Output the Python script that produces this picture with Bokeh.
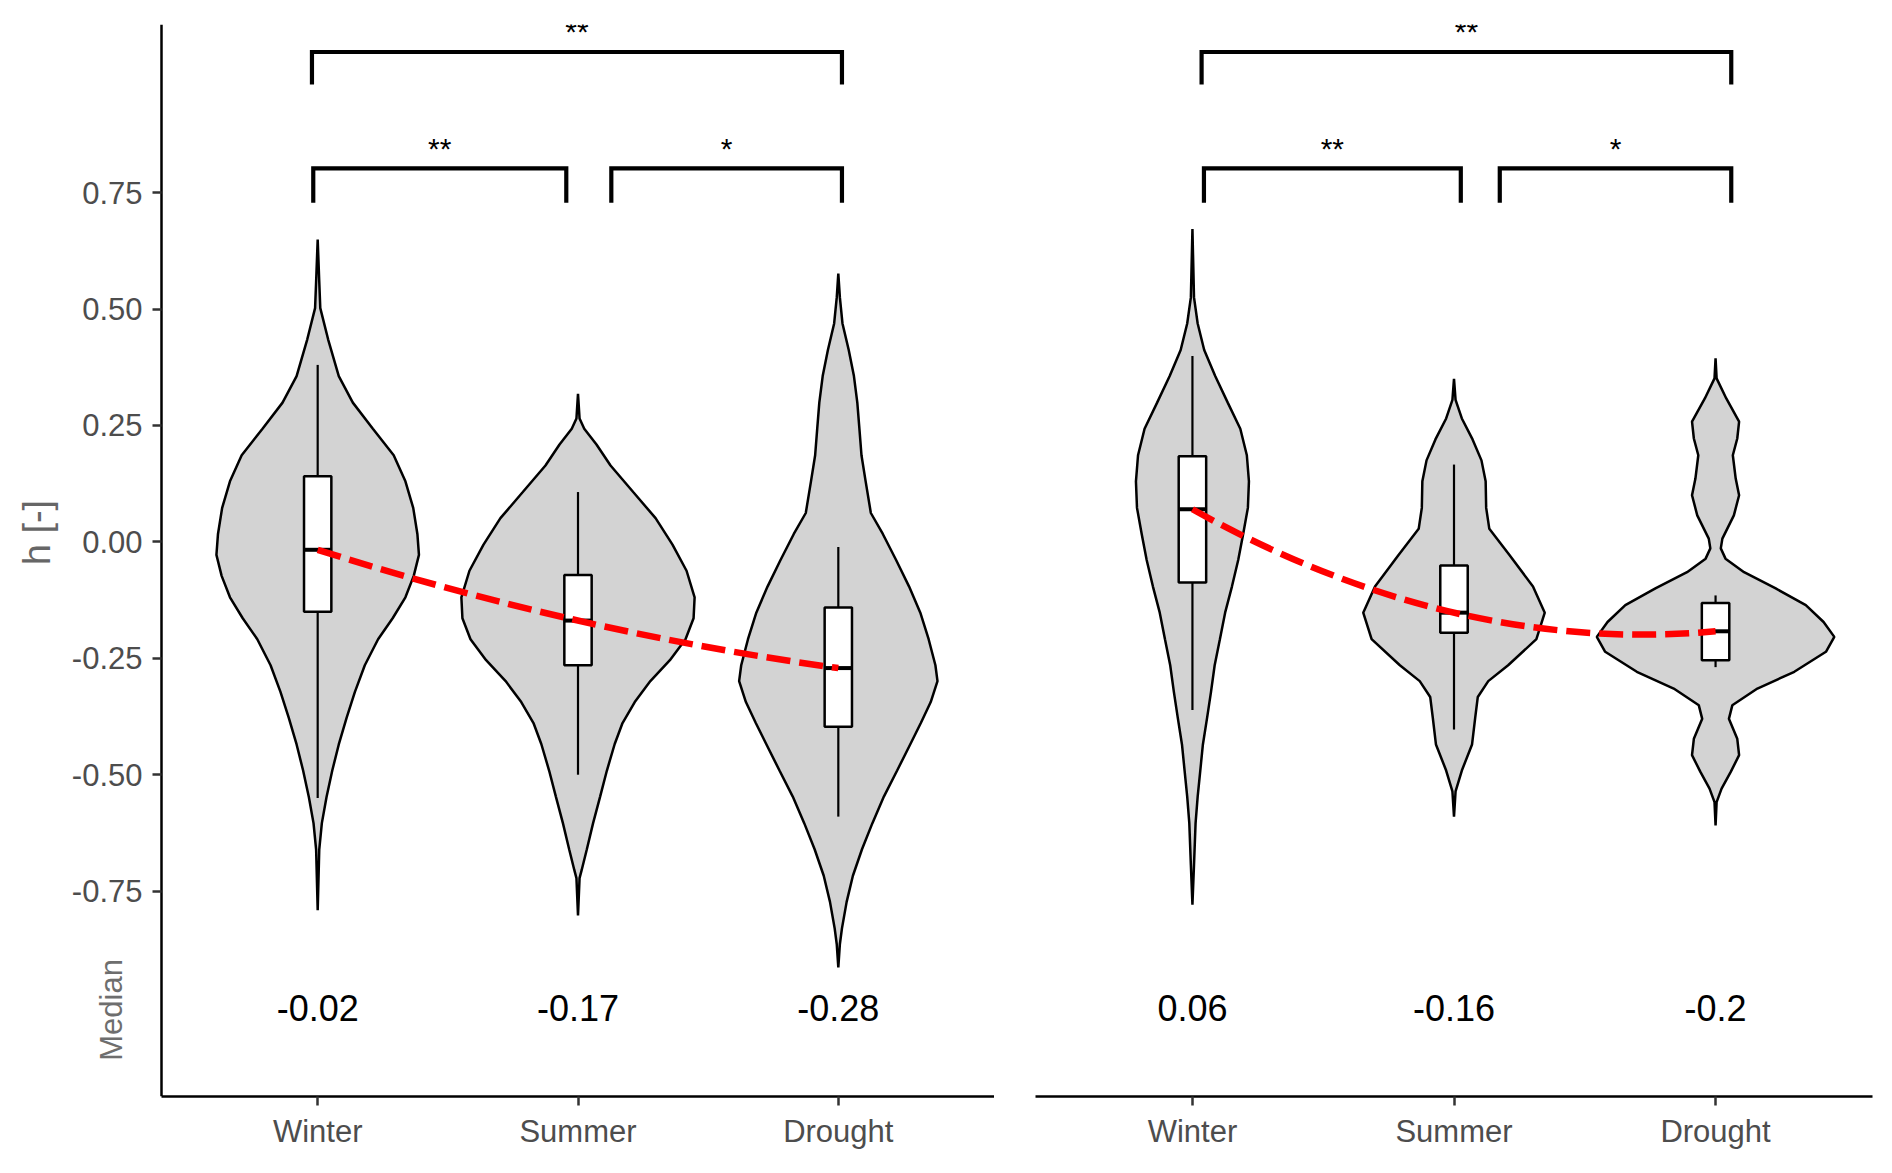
import math
from bokeh.plotting import figure
from bokeh.models import Range1d, FixedTicker, PrintfTickFormatter
from bokeh.layouts import row
from bokeh.embed import file_html
from bokeh.resources import INLINE
from bokeh.core.properties import value

# ---------------- data ----------------
categories = ["Winter", "Summer", "Drought"]
positions = [1, 2, 3]
y_ticks = [-0.75, -0.5, -0.25, 0.0, 0.25, 0.5, 0.75]

# violin profiles (h level, half width in category units)
left_winter_y = [0.649, 0.559, 0.502, 0.435, 0.356, 0.299, 0.243, 0.186, 0.130, 0.073, 0.017, -0.028, -0.073,
                 -0.119, -0.164, -0.209, -0.265, -0.322, -0.378, -0.435, -0.491, -0.548, -0.604, -0.661, -0.791]
left_winter_hw = [0.0, 0.006, 0.010, 0.040, 0.081, 0.135, 0.212, 0.292, 0.337, 0.367, 0.383, 0.389, 0.369,
                  0.337, 0.288, 0.232, 0.181, 0.143, 0.111, 0.081, 0.056, 0.034, 0.016, 0.006, 0.0]

left_summer_y = [0.318, 0.265, 0.243, 0.209, 0.164, 0.107, 0.051, -0.006, -0.062, -0.119, -0.164, -0.209, -0.254,
                 -0.299, -0.344, -0.389, -0.434, -0.491, -0.547, -0.604, -0.660, -0.705, -0.722, -0.802]
left_summer_hw = [0.0, 0.006, 0.024, 0.071, 0.125, 0.212, 0.298, 0.363, 0.417, 0.448, 0.444, 0.413, 0.353,
                  0.278, 0.218, 0.171, 0.141, 0.111, 0.085, 0.058, 0.034, 0.014, 0.006, 0.0]

left_drought_y = [0.576, 0.525, 0.469, 0.412, 0.356, 0.299, 0.243, 0.186, 0.130, 0.062, 0.017, -0.039, -0.096,
                  -0.152, -0.209, -0.265, -0.299, -0.344, -0.389, -0.435, -0.491, -0.547, -0.604, -0.660, -0.717,
                  -0.773, -0.830, -0.864, -0.914]
left_drought_hw = [0.0, 0.006, 0.016, 0.040, 0.060, 0.073, 0.081, 0.089, 0.105, 0.125, 0.171, 0.222, 0.272,
                   0.315, 0.347, 0.373, 0.381, 0.355, 0.317, 0.276, 0.226, 0.175, 0.131, 0.091, 0.056,
                   0.032, 0.014, 0.006, 0.0]

right_winter_y = [0.672, 0.525, 0.469, 0.412, 0.356, 0.299, 0.243, 0.186, 0.130, 0.073, 0.017, -0.039, -0.096,
                  -0.152, -0.209, -0.265, -0.322, -0.378, -0.435, -0.491, -0.547, -0.604, -0.694, -0.779]
right_winter_hw = [0.0, 0.006, 0.020, 0.045, 0.087, 0.135, 0.183, 0.208, 0.216, 0.212, 0.194, 0.175, 0.151,
                   0.125, 0.105, 0.085, 0.071, 0.056, 0.040, 0.030, 0.020, 0.012, 0.006, 0.0]

right_summer_y = [0.350, 0.305, 0.265, 0.220, 0.175, 0.130, 0.073, 0.028, -0.028, -0.096, -0.152, -0.209,
                  -0.265, -0.299, -0.333, -0.378, -0.435, -0.491, -0.536, -0.590]
right_summer_hw = [0.0, 0.006, 0.030, 0.071, 0.105, 0.121, 0.123, 0.135, 0.212, 0.302, 0.347, 0.315,
                   0.207, 0.131, 0.091, 0.081, 0.069, 0.030, 0.006, 0.0]

right_drought_y = [0.394, 0.351, 0.308, 0.258, 0.222, 0.186, 0.136, 0.100, 0.057, 0.007, -0.014, -0.036, -0.065,
                   -0.100, -0.136, -0.172, -0.204, -0.236, -0.279, -0.315, -0.351, -0.380, -0.423, -0.458,
                   -0.494, -0.530, -0.559, -0.609]
right_drought_hw = [0.0, 0.004, 0.041, 0.090, 0.083, 0.066, 0.077, 0.090, 0.070, 0.026, 0.020, 0.038, 0.109,
                    0.230, 0.345, 0.413, 0.454, 0.422, 0.301, 0.160, 0.064, 0.051, 0.083, 0.090,
                    0.058, 0.023, 0.004, 0.0]

# box statistics
left_q1 = [-0.150, -0.265, -0.397]
left_med = [-0.017, -0.169, -0.271]
left_q3 = [0.141, -0.071, -0.141]
left_wlo = [-0.55, -0.500, -0.590]
left_whi = [0.380, 0.107, -0.011]
left_median_labels = ["-0.02", "-0.17", "-0.28"]

right_q1 = [-0.087, -0.195, -0.254]
right_med = [0.070, -0.152, -0.192]
right_q3 = [0.184, -0.051, -0.131]
right_wlo = [-0.361, -0.403, -0.269]
right_whi = [0.399, 0.166, -0.115]
right_median_labels = ["0.06", "-0.16", "-0.2"]

# significance brackets
left_br_x0 = [0.978, 0.983, 2.128]
left_br_x1 = [3.014, 1.955, 3.014]
right_br_x0 = [1.035, 1.044, 2.175]
right_br_x1 = [3.060, 2.026, 3.060]
br_y = [1.052, 0.802, 0.802]
br_tip = [0.982, 0.728, 0.728]
br_labels = ["**", "**", "*"]

# axis titles
y_title = "h [-]"
y_title_pos = (-0.080, 0.02)
median_title = "Median"
median_title_pos = (0.208, -1.005)

# ---------------- styling ----------------
FONT = "Liberation Sans"
Y_RANGE = (-1.191, 1.111)
X_MIN, X_MAX = 0.4, 3.6
PX_PER_UNIT = 833 / 3.2
FRAME_H = 1072
LEFT_EXTRA = 161  # pixels to the left of x = 0.4 in the left panel


def style_axis(ax):
    ax.axis_line_color = "black"
    ax.axis_line_width = 2.5
    ax.major_tick_line_color = "#333333"
    ax.major_tick_line_width = 2.5
    ax.major_tick_out = 9
    ax.major_tick_in = 0
    ax.minor_tick_line_color = None
    ax.major_label_text_font = FONT
    ax.major_label_text_font_size = "31px"
    ax.major_label_text_color = "#4d4d4d"


def make_panel(p, violins, q1, med, q3, wlo, whi, med_labels, bx0, bx1):
    xs, ys = [], []
    for c, (vy, vw) in zip(positions, violins):
        xs.append([c - w for w in vw] + [c + w for w in reversed(vw)])
        ys.append(list(vy) + list(reversed(vy)))
    p.patches(xs, ys, fill_color="#d3d3d3", line_color="black", line_width=2.5)

    # whiskers
    p.segment(x0=positions, y0=q3, x1=positions, y1=whi, line_color="black", line_width=2.2)
    p.segment(x0=positions, y0=q1, x1=positions, y1=wlo, line_color="black", line_width=2.2)
    # boxes
    bw = 0.0525
    p.quad(left=[c - bw for c in positions], right=[c + bw for c in positions], bottom=q1, top=q3,
           fill_color="white", line_color="black", line_width=2.5)
    p.segment(x0=[c - bw for c in positions], y0=med, x1=[c + bw for c in positions], y1=med,
              line_color="black", line_width=4)

    # red dashed trend through the medians (quadratic curve)
    cy = 2 * med[1] - 0.5 * (med[0] + med[2])
    p.quadratic(x0=[positions[0]], y0=[med[0]], x1=[positions[2]], y1=[med[2]],
                cx=[positions[1]], cy=[cy], line_color="#ff0000", line_width=6.5,
                line_dash="24 9")

    # brackets
    bxs, bys = [], []
    for a, b, yb, yt in zip(bx0, bx1, br_y, br_tip):
        bxs.append([a, a, b, b])
        bys.append([yt, yb, yb, yt])
    p.multi_line(bxs, bys, line_color="black", line_width=4.2, line_join="miter")
    p.text(x=[(a + b) / 2 for a, b in zip(bx0, bx1)], y=[yb + 0.043 for yb in br_y], text=br_labels,
           text_font=value(FONT), text_font_size="30px", text_color="black",
           text_align="center", text_baseline="alphabetic")

    # median values
    p.text(x=positions, y=[-1.0] * len(positions), text=med_labels, text_font=value(FONT),
           text_font_size="36px", text_color="black", text_align="center", text_baseline="middle")


def base_fig(x_start, frame_width, **kw):
    p = figure(x_range=Range1d(x_start, X_MAX), y_range=Range1d(*Y_RANGE), frame_height=FRAME_H,
               frame_width=frame_width, output_backend="svg", toolbar_location=None,
               min_border_top=24, min_border_bottom=60, **kw)
    p.grid.visible = False
    p.outline_line_color = None
    p.background_fill_color = "white"
    p.border_fill_color = "white"
    p.xaxis.ticker = FixedTicker(ticks=positions)
    p.xaxis.major_label_overrides = {pos: cat for pos, cat in zip(positions, categories)}
    p.xaxis.major_label_standoff = 8
    p.xaxis.bounds = (X_MIN, X_MAX)
    style_axis(p.xaxis[0])
    return p


# left panel: frame extends left of x=0.4 so the axis titles can be drawn as text
left_start = X_MIN - LEFT_EXTRA / PX_PER_UNIT
p1 = base_fig(left_start, 833 + LEFT_EXTRA, min_border_left=0, min_border_right=0)
p1.yaxis.ticker = FixedTicker(ticks=y_ticks)
p1.yaxis.formatter = PrintfTickFormatter(format="%.2f")
p1.yaxis.major_label_standoff = 10
p1.yaxis.fixed_location = X_MIN
style_axis(p1.yaxis[0])
make_panel(p1, [(left_winter_y, left_winter_hw), (left_summer_y, left_summer_hw), (left_drought_y, left_drought_hw)],
           left_q1, left_med, left_q3, left_wlo, left_whi, left_median_labels, left_br_x0, left_br_x1)

p1.text(x=[y_title_pos[0]], y=[y_title_pos[1]], text=[y_title], angle=math.pi / 2,
        text_font=value(FONT), text_font_size="38px", text_color="#666666",
        text_align="center", text_baseline="middle")
p1.text(x=[median_title_pos[0]], y=[median_title_pos[1]], text=[median_title], angle=math.pi / 2,
        text_font=value(FONT), text_font_size="31px", text_color="#6e6e6e",
        text_align="center", text_baseline="middle")

# right panel
p2 = base_fig(X_MIN, 837, min_border_left=41, min_border_right=4, y_axis_location=None)
make_panel(p2, [(right_winter_y, right_winter_hw), (right_summer_y, right_summer_hw),
                (right_drought_y, right_drought_hw)],
           right_q1, right_med, right_q3, right_wlo, right_whi, right_median_labels, right_br_x0, right_br_x1)

layout = row(p1, p2)
open("out.html", "w").write(file_html(layout, INLINE))
